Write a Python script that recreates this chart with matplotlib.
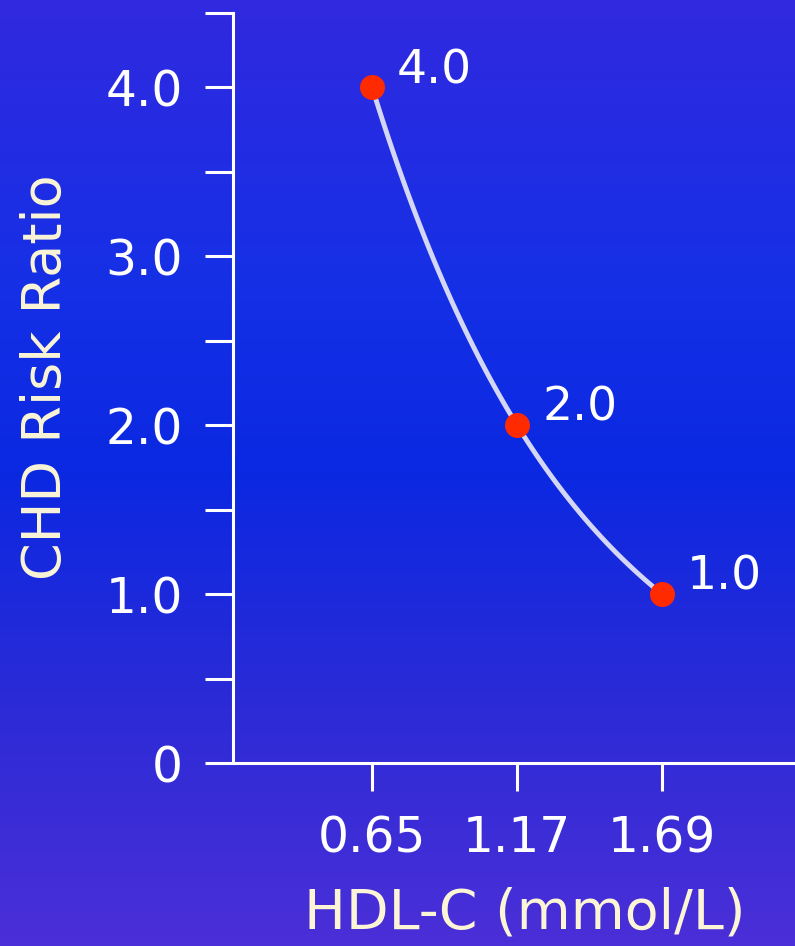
import numpy as np
import matplotlib
matplotlib.use("Agg")
import matplotlib.pyplot as plt
from matplotlib.colors import LinearSegmentedColormap

# HDL-C (mmol/L) vs CHD risk ratio
hdl = [0.65, 1.17, 1.69]
risk = [4.0, 2.0, 1.0]
point_labels = ["4.0", "2.0", "1.0"]
x_ticklabels = ["0.65", "1.17", "1.69"]
y_major = [0, 1, 2, 3, 4]
y_major_labels = ["0", "1.0", "2.0", "3.0", "4.0"]
y_minor = [0.5, 1.5, 2.5, 3.5]

WHITE = "#ffffff"
CREAM = "#fbf5d6"
YMAX = 4.44   # top of the value axis (a tick sits at the end)

fig = plt.figure(figsize=(7.95, 9.46), dpi=100)

# ---- background gradient (slide backdrop) ----------------------------------
bg = fig.add_axes([0, 0, 1, 1], zorder=0)
bg_cmap = LinearSegmentedColormap.from_list("slide", [
    (0.00, "#3129df"),
    (0.30, "#1530e6"),
    (0.50, "#0b28e2"),
    (0.75, "#2c2bd6"),
    (1.00, "#4b2fd8"),
])
grad = np.linspace(0, 1, 256)[:, None] * np.ones((1, 64))
bg.imshow(grad, cmap=bg_cmap, aspect="auto", extent=[0, 1, 0, 1], origin="upper")
bg.set_axis_off()

# ---- main axes -----------------------------------------------------------
ax = fig.add_axes([233 / 795, 1 - 763 / 946, 562 / 795, 750 / 946], zorder=1)
ax.set_facecolor("none")
ax.set_xlim(0.151, 2.167)
ax.set_ylim(0, YMAX)

# smooth connector: geometric step between neighbouring points
cx, cy = [], []
for i in range(len(hdl) - 1):
    t = np.linspace(0, 1, 60)
    cx.append(hdl[i] + (hdl[i + 1] - hdl[i]) * t)
    cy.append(risk[i] * (risk[i + 1] / risk[i]) ** t)
ax.plot(np.concatenate(cx), np.concatenate(cy), color="#d4d6f6", lw=3.5,
        solid_capstyle="round", zorder=2)
ax.plot(hdl, risk, "o", color="#ff2a00", markersize=18, mec="none", zorder=3)

for x, y, s in zip(hdl, risk, point_labels):
    ax.annotate(s, (x, y), xytext=(18, 12), textcoords="offset points",
                ha="left", va="center", color=WHITE, fontsize=34)

for side in ("top", "right"):
    ax.spines[side].set_visible(False)
for side in ("left", "bottom"):
    ax.spines[side].set_color(WHITE)
    ax.spines[side].set_linewidth(2.2)

ax.set_xticks(hdl)
ax.set_xticklabels(x_ticklabels)
ax.set_yticks(y_major)
ax.set_yticklabels(y_major_labels)
ax.set_yticks(y_minor + [YMAX], minor=True)
ax.tick_params(axis="both", which="both", colors=WHITE, width=2.2,
               length=20, direction="out", labelsize=35)
ax.tick_params(axis="y", which="major", pad=16)
ax.tick_params(axis="x", which="major", pad=17)

ax.set_xlabel("HDL-C (mmol/L)", color=CREAM, fontsize=40)
ax.set_ylabel("CHD Risk Ratio", color=CREAM, fontsize=39)
ax.xaxis.set_label_coords(0.52, -0.165)
ax.yaxis.set_label_coords(-0.287, 0.515)

fig.savefig("out.png", dpi=100)
